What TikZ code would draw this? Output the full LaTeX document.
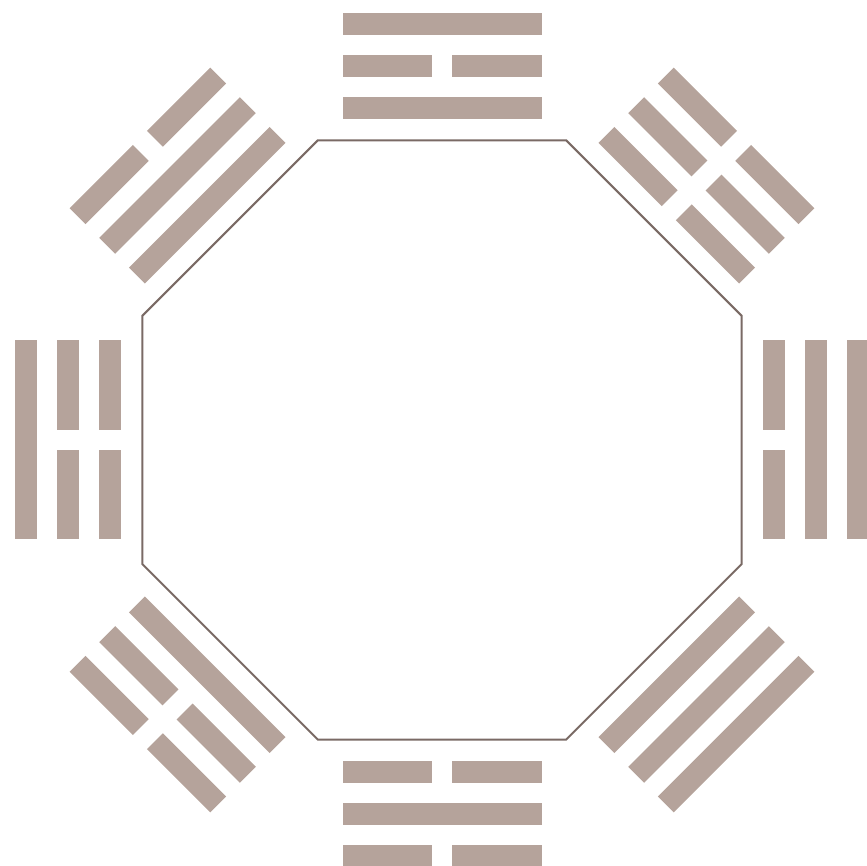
\documentclass[tikz,border=0pt]{standalone}
\usepackage{tikz}
\usetikzlibrary{shapes.geometric}

\definecolor{barcol}{RGB}{181,163,155}
\definecolor{rimcol}{RGB}{122,106,101}

\begin{document}
\begin{tikzpicture}[x=0.5pt,y=0.5pt,
    bar/.style={fill=barcol},
    rim/.style={draw=rimcol,line width=1pt}]
\useasboundingbox (0,0) rectangle (867,866);
\clip (0,0) rectangle (867,866);
\coordinate (c) at (442,426);
\node[rim,regular polygon,regular polygon sides=8,minimum size=324.4pt,
      inner sep=0pt] (octagon) at (c) {};
% trigrams: angle / inner / middle / outer (1 = solid, 0 = broken)
\foreach \ang/\la/\lb/\lc in {90/1/0/1, 45/0/0/0, 0/0/1/1, -45/1/1/1,
                               -90/0/1/0, -135/1/0/0, 180/0/0/1, 135/1/1/0}{
  \begin{scope}[shift={(c)},rotate=\ang-90]
    \foreach \r/\k in {332/\la,374/\lb,416/\lc}{
      \ifnum\k=1
        \fill[bar] (-99.5,\r-11.25) rectangle (99.5,\r+11.25);
      \else
        \fill[bar] (-99.5,\r-11.25) rectangle (-10,\r+11.25);
        \fill[bar] (10,\r-11.25) rectangle (99.5,\r+11.25);
      \fi
    }
  \end{scope}
}
\end{tikzpicture}
\end{document}
